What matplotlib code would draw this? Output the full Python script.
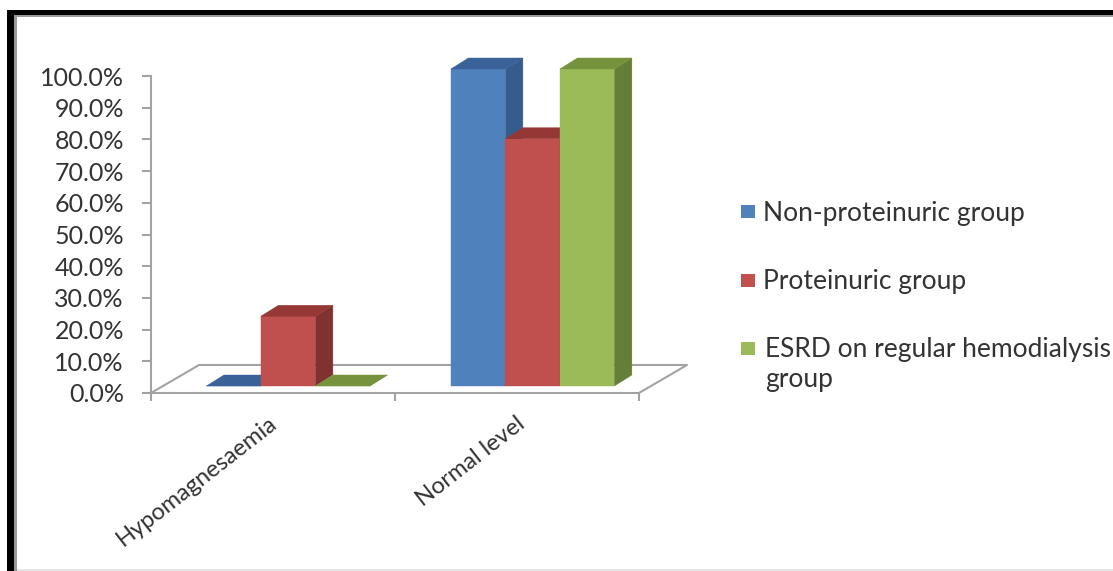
import matplotlib
matplotlib.use('Agg')
import matplotlib.pyplot as plt
from matplotlib.patches import Polygon, Rectangle

W, H = 1113, 571

categories = ['Hypomagnesaemia', 'Normal level']
non_proteinuric = [0.0, 100.0]
proteinuric = [22.0, 78.0]
esrd = [0.0, 100.0]
series_names = ['Non-proteinuric group', 'Proteinuric group',
                'ESRD on regular hemodialysis\ngroup']
y_ticks = list(range(0, 101, 10))

FACE = ['#4F81BD', '#C0504D', '#9BBB59']
SIDE = ['#355C8C', '#7F3230', '#667F38']
TOP = ['#3A6299', '#953735', '#76923C']
GRAY = '#A3A3A3'
TEXT = '#333333'

plt.rcParams['font.family'] = ['Lato', 'DejaVu Sans']

PX_X = 244.0  # px per category
PX_Y = 3.17   # px per percent
BAR_W = 54.5 / PX_X
DEPTH_X = 17.5 / PX_X
DEPTH_Y = 11 / PX_Y
BASE = 7 / PX_Y
FLOOR_X = 48 / PX_X
FLOOR_Y = 28 / PX_Y


def px_box(left, top, right, bottom):
    return [left / W, 1 - bottom / H, (right - left) / W, (bottom - top) / H]


def draw_bar(ax, x, value, i):
    # front face plus the two faces that fake the 3d look
    b = BASE
    t = BASE + value
    ax.bar(x, value, BAR_W, bottom=b, align='edge', color=FACE[i], clip_on=False, zorder=3,
           linewidth=0.3, edgecolor=FACE[i])
    r = x + BAR_W
    ax.add_patch(Polygon([(r, b), (r + DEPTH_X, b + DEPTH_Y), (r + DEPTH_X, t + DEPTH_Y), (r, t)],
                         fc=SIDE[i], ec=SIDE[i], lw=0.3, clip_on=False, zorder=3))
    ax.add_patch(Polygon([(x, t), (r, t), (r + DEPTH_X, t + DEPTH_Y), (x + DEPTH_X, t + DEPTH_Y)],
                         fc=TOP[i], ec=TOP[i], lw=0.3, clip_on=False, zorder=3))


fig = plt.figure(figsize=(W / 100, H / 100), dpi=100, facecolor='white')
ax = fig.add_axes(px_box(151, 76, 639, 393))
ax.set_xlim(0, 2)
ax.set_ylim(0, 100)
ax.patch.set_visible(False)

for s in ['top', 'right']:
    ax.spines[s].set_visible(False)
for s in ['left', 'bottom']:
    ax.spines[s].set_color(GRAY)
    ax.spines[s].set_linewidth(1.5)

# floor of the 3d box
ax.plot([0, FLOOR_X, 2 + FLOOR_X, 2], [0, FLOOR_Y, FLOOR_Y, 0], color=GRAY, lw=1.5,
        clip_on=False, zorder=1)

ax.set_yticks(y_ticks)
ax.set_yticklabels([f'{v:.1f}%' for v in y_ticks], fontsize=18, color=TEXT)
ax.tick_params(axis='y', length=6.5, width=1.5, color=GRAY, pad=13)
ax.set_xticks([0, 1, 2])
ax.set_xticklabels([])
ax.tick_params(axis='x', which='major', length=5.5, width=1.5, color=GRAY)
ax.set_xticks([0.48, 1.495], minor=True)
ax.set_xticklabels(categories, minor=True, rotation=38, ha='right', va='top',
                   rotation_mode='anchor', fontsize=17, color=TEXT)
ax.tick_params(axis='x', which='minor', length=0, pad=14)

for g in range(len(categories)):
    left = g + (0.227 if g == 0 else 0.229)
    for i, vals in enumerate([non_proteinuric, proteinuric, esrd]):
        draw_bar(ax, left + i * BAR_W, vals[g], i)

# legend, spacing is uneven in the original so placed by hand
leg_y = [211.5, 280, 348]
text_x = [763, 763, 765]
for i, name in enumerate(series_names):
    fig.add_artist(Rectangle((741 / W, 1 - (leg_y[i] + 6.5) / H), 14 / W, 13 / H,
                             transform=fig.transFigure, fc=FACE[i], ec='none'))
    fig.text(text_x[i] / W, 1 - (leg_y[i] - 10.5) / H, name, fontsize=19, color=TEXT,
             va='top', ha='left', linespacing=1.22)

# picture frame
fig.add_artist(Rectangle((7 / W, 0), 7 / W, 1 - 10 / H, transform=fig.transFigure, fc='black', ec='none'))
fig.add_artist(Rectangle((7 / W, 1 - 15 / H), 1 - 7 / W, 5 / H, transform=fig.transFigure, fc='black', ec='none'))
fig.add_artist(Rectangle((14 / W, 0), 3 / W, 1 - 15 / H, transform=fig.transFigure, fc='#9A9A9A', ec='none'))
fig.add_artist(Rectangle((14 / W, 1 - 17 / H), 1 - 14 / W, 2 / H, transform=fig.transFigure, fc='#9A9A9A', ec='none'))
fig.add_artist(Rectangle((17 / W, 0), 1 - 17 / W, 2 / H, transform=fig.transFigure, fc='#E6E6E6', ec='none'))

fig.savefig('out.png', dpi=100)
